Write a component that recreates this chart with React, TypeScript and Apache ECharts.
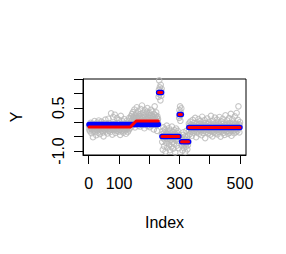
import React, { useEffect, useRef } from "react";
import * as echarts from "echarts";

const obsA1 = [-0.12,-0.25,-0.08,-0.31,-0.18,-0.02,-0.22,-0.15,-0.38,-0.10,
-0.27,-0.05,-0.19,-0.52,-0.14,-0.09,-0.29,-0.21,0.04,-0.16,
-0.33,-0.11,-0.24,-0.07,-0.45,-0.18,-0.13,-0.01,-0.28,-0.20,
-0.36,-0.15,0.06,-0.23,-0.10,-0.17,-0.41,-0.06,-0.26,-0.14,
-0.19,0.02,-0.30,-0.12,-0.22,-0.08,-0.35,-0.16,-0.49,-0.11,
-0.25,-0.04,-0.18,-0.27,0.09,-0.21,-0.13,-0.32,-0.07,-0.20,
-0.15,-0.39,-0.09,-0.24,0.12,-0.17,-0.29,-0.03,-0.14,-0.22,
-0.34,-0.10,-0.19,0.31,-0.26,-0.12,-0.06,-0.43,-0.16,-0.21,
0.18,-0.08,-0.28,-0.13,-0.23,0.26,-0.18,-0.37,-0.05,-0.15,
-0.25,-0.11,0.14,-0.30,-0.19,-0.02,-0.22,-0.14,-0.33,0.08,
-0.09,-0.27,-0.17,-0.44,-0.12,0.22,-0.20,-0.07,-0.31,-0.16,
-0.24,0.03,-0.13,-0.36,-0.18,-0.10,0.11,-0.26,-0.21,-0.04,
-0.29,-0.15,-0.40,-0.08,-0.19,0.05,-0.23,-0.12,-0.34,-0.17,
-0.06,-0.28,-0.14,0.15,-0.22,-0.09,-0.20];
const obsA2 = [0.12,-0.05,0.21,0.03,-0.14,0.28,0.08,-0.02,0.35,0.15,
-0.09,0.19,0.01,0.44,0.10,-0.18,0.24,0.06,-0.03,0.31,
0.13,0.52,-0.07,0.17,0.04,0.38,-0.12,0.22,0.09,0.00,
0.27,-0.15,0.14,0.46,0.05,-0.04,0.20,0.11,0.58,-0.10,
0.16,0.02,0.33,-0.06,0.25,0.07,-0.21,0.18,0.41,0.03,
-0.08,0.29,0.12,-0.01,0.36,0.09,0.49,-0.13,0.19,0.06,
0.23,-0.03,0.14,0.32,-0.17,0.08,0.26,0.01,0.43,0.15,
-0.11,0.21,0.04,0.37,-0.05,0.18,0.10,-0.25,0.28,0.07,
0.55,0.13,-0.02,0.24,0.02,0.34,-0.09,0.16,-0.30,0.20,
0.05,0.11,-0.06];
const obsB = [0.88,1.12,1.45,0.97,1.21,1.03,0.76,1.30,1.08,0.92,1.16];
const obsC = [-0.42,-0.68,-0.31,-0.95,-0.55,-0.18,-0.47,-0.83,-0.36,-0.60,
-0.25,-0.51,-1.02,-0.44,-0.72,-0.39,-0.12,-0.58,-0.88,-0.49,
-0.33,-0.65,-0.41,-0.21,-0.77,-0.53,-0.97,-0.45,-0.29,-0.62,
-0.38,-0.85,-0.50,-0.15,-0.69,-0.43,-0.56,-0.92,-0.34,-0.47,
-0.74,-0.27,-0.59,-0.40,-1.05,-0.52,-0.63,-0.22,-0.46,-0.81,
-0.37,-0.57,-0.30,-0.66,-0.48,-0.90,-0.44];
const obsD = [0.15,0.42,0.21,0.55,0.05,0.33,0.26,0.48];
const obsE = [-0.55,-0.81,-0.62,-0.98,-0.44,-0.73,-0.35,-0.66,-0.90,-0.58,
-0.77,-0.49,-1.03,-0.69,-0.61,-0.84,-0.30,-0.71,-0.52,-0.94,
-0.64,-0.79,-0.46,-0.68];
const obsF = [-0.05,-0.28,-0.12,-0.41,-0.19,0.02,-0.23,-0.09,-0.33,-0.16,
-0.47,-0.11,-0.25,0.08,-0.20,-0.14,-0.36,-0.03,-0.22,-0.30,
-0.13,0.15,-0.26,-0.18,-0.52,-0.08,-0.21,-0.35,-0.01,-0.17,
-0.29,-0.10,0.11,-0.24,-0.40,-0.15,-0.06,-0.27,0.04,-0.19,
-0.32,-0.12,-0.45,-0.20,0.19,-0.09,-0.23,-0.14,-0.37,-0.04,
-0.18,-0.28,0.07,-0.16,-0.55,-0.11,-0.25,-0.02,-0.21,-0.33,
-0.13,0.13,-0.26,-0.07,-0.38,-0.17,-0.22,0.01,-0.30,-0.15,
-0.10,-0.43,-0.19,0.22,-0.24,-0.06,-0.31,-0.14,-0.49,-0.20,
0.05,-0.27,-0.12,-0.35,-0.08,-0.18,0.16,-0.23,-0.39,-0.03,
-0.16,-0.29,-0.11,0.09,-0.25,-0.42,-0.13,-0.21,-0.05,-0.34,
-0.19,0.18,-0.09,-0.28,-0.15,-0.50,-0.22,0.03,-0.17,-0.32,
-0.07,-0.24,0.12,-0.14,-0.37,-0.20,-0.01,-0.27,-0.44,-0.10,
-0.18,0.24,-0.26,-0.12,-0.33,-0.06,-0.21,0.06,-0.30,-0.16,
-0.40,-0.09,-0.23,0.14,-0.15,-0.36,-0.04,-0.19,-0.28,0.29,
-0.13,-0.47,-0.22,-0.08,0.10,-0.25,-0.17,-0.31,-0.02,-0.20,
-0.38,-0.11,0.20,-0.26,-0.14,-0.05,-0.34,-0.18,0.32,-0.23,
-0.10,-0.29,0.08,-0.16,0.55,-0.21,-0.07,-0.35,-0.12,0.00];

// Blue step fit: segment starts, ends, levels
const segStart = [1, 231, 242, 299, 307, 331];
const segEnd = [230, 241, 298, 306, 330, 500];
const blueLevel = [-0.076, 1.03, -0.5, 0.27, -0.68, -0.18];

// Red fit on first segment (knots), then same levels as blue afterwards
const redX = [1, 137, 157, 230];
const redY = [-0.17, -0.17, 0.04, 0.04];

const xTicks = [0, 100, 200, 300, 400, 500];
const xLabels = [0, 100, 300, 500];
const yTicks = [-1, -0.5, 0, 0.5, 1, 1.5];
const yLabels = [-1, 0.5];

const FONT = "'Liberation Sans', Arial, Helvetica, sans-serif";

export default function App() {
  const ref = useRef<HTMLDivElement>(null);
  useEffect(() => {
    if (!ref.current) return;
    const chart = echarts.init(ref.current, null, { renderer: "svg" });
    const obs = [...obsA1, ...obsA2, ...obsB, ...obsC, ...obsD, ...obsE, ...obsF];
    const scatterData = obs.map((v, i) => [i + 1, v]);

    const series: any[] = [
      {
        type: "scatter",
        data: scatterData,
        symbol: "circle",
        symbolSize: 5.5,
        itemStyle: { color: "rgba(0,0,0,0)", borderColor: "#b8b8b8", borderWidth: 1.1 },
        silent: true,
        z: 1,
      },
    ];
    segStart.forEach((s, k) => {
      series.push({
        type: "line",
        data: [[s, blueLevel[k]], [segEnd[k], blueLevel[k]]],
        showSymbol: false,
        symbol: "none",
        lineStyle: { color: "#0000ff", width: 5.5, cap: "round" },
        silent: true,
        z: 2,
      });
    });
    series.push({
      type: "line",
      data: redX.map((x, i) => [x, redY[i]]),
      showSymbol: false,
      symbol: "none",
      lineStyle: { color: "#ff0000", width: 3, cap: "round", join: "round" },
      silent: true,
      z: 3,
    });
    segStart.slice(1).forEach((s, k) => {
      series.push({
        type: "line",
        data: [[s, blueLevel[k + 1]], [segEnd[k + 1], blueLevel[k + 1]]],
        showSymbol: false,
        symbol: "none",
        lineStyle: { color: "#ff0000", width: 3, cap: "round" },
        silent: true,
        z: 3,
      });
    });

    chart.setOption({
      animation: false,
      grid: {
        left: 79,
        top: 79,
        right: 40,
        bottom: 99,
        show: true,
        borderColor: "#000",
        borderWidth: 1,
        backgroundColor: "transparent",
      },
      xAxis: {
        type: "value",
        min: -18.96,
        max: 519.96,
        name: "Index",
        nameLocation: "middle",
        nameGap: 59,
        nameTextStyle: { fontFamily: FONT, fontSize: 16, color: "#000" },
        axisLine: { show: true, onZero: false, lineStyle: { color: "#000" } },
        axisTick: { show: true, length: 9, customValues: xTicks, lineStyle: { color: "#000" } },
        axisLabel: {
          customValues: xLabels,
          margin: 20,
          fontFamily: FONT,
          fontSize: 16,
          color: "#000",
          formatter: (v: number) => String(v),
        },
        splitLine: { show: false },
      },
      yAxis: {
        type: "value",
        min: -1.138,
        max: 1.5,
        name: "Y",
        nameLocation: "middle",
        nameGap: 59,
        nameTextStyle: { fontFamily: FONT, fontSize: 16, color: "#000" },
        axisLine: { show: true, onZero: false, lineStyle: { color: "#000" } },
        axisTick: { show: true, length: 9, customValues: yTicks, lineStyle: { color: "#000" } },
        axisLabel: {
          customValues: yLabels,
          rotate: 90,
          margin: 17,
          fontFamily: FONT,
          fontSize: 16,
          color: "#000",
          formatter: (v: number) => v.toFixed(1),
        },
        splitLine: { show: false },
      },
      series,
    });
    return () => chart.dispose();
  }, []);
  return (
    <div
      ref={ref}
      style={{ position: "fixed", left: 0, top: 0, width: 286, height: 254, background: "#fff" }}
    />
  );
}
